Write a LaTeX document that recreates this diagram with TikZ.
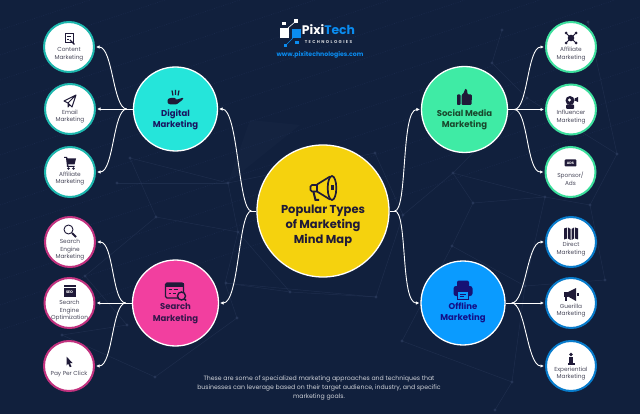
\documentclass[tikz,border=0pt]{standalone}
\usepackage{fontspec}
\setmainfont{Poppins}
\usetikzlibrary{positioning}
\usetikzlibrary{calc}
\usetikzlibrary{arrows.meta}
\definecolor{mapbg}{HTML}{11203D}
\definecolor{meshline}{HTML}{2A3A5C}
\definecolor{raydots}{HTML}{1A2A4C}
\definecolor{iconink}{HTML}{1F1A38}
\definecolor{leafink}{HTML}{4A4A5C}
\definecolor{mapyellow}{HTML}{F5D20E}
\definecolor{digitalteal}{HTML}{25E5DA}
\definecolor{socialgreen}{HTML}{3FEBA5}
\definecolor{searchpink}{HTML}{F23F9F}
\definecolor{offlineblue}{HTML}{0A9BFF}
\definecolor{logoblue}{HTML}{0A8CF0}
\tikzset{
	hub/.style={circle, draw=white, line width=1.3pt, inner sep=0pt, minimum size=84pt},
	leaf/.style={circle, fill=white, line width=2pt, inner sep=0pt, minimum size=50pt},
	hubtext/.style={align=center, font=\bfseries\fontsize{8.5}{11.2}\selectfont},
	leaftext/.style={align=center, text=leafink, font=\fontsize{5.8}{7.6}\selectfont},
	link/.style={draw=white, line width=0.9pt},
	linkto/.style={link, -{Latex[length=3.5pt,width=3.5pt]}, shorten >=1pt},
	inkline/.style={draw=iconink, line width=1pt},
	pics/docicon/.style={code={
		\draw[inkline] (-4,-5) rectangle (4,4);
		\draw[inkline, line width=.8pt] (-2,-2.5) -- (2,-2.5) (-2,0) -- (0,0);
		\draw[inkline, line width=1.3pt] (1,1) -- (5.5,5.5);
	}},
	pics/planeicon/.style={code={
		\draw[inkline, line join=round] (6,-6) -- (-6,0) -- (-2,2) -- (6,-6) -- (2,6) -- (-2,2) -- (-2,6) -- (0,3.5);
	}},
	pics/carticon/.style={code={
		\fill[iconink] (-6,-6) -- (-3,-6) -- (-2.4,-4.5) -- (6,-4.5) -- (4.5,1.5) -- (-2,1.5) -- (-1.6,3) -- (4.5,3) -- (4.5,4) -- (-3,4) -- (-3.2,1.5) -- (-4,-5) -- (-6,-5) -- cycle;
		\fill[iconink] (-1.5,5.5) circle (1.3) (3.5,5.5) circle (1.3);
	}},
	pics/lensicon/.style={code={
		\draw[inkline, line width=.9pt] (-1.5,-1.5) circle (4.5);
		\draw[inkline, line width=2pt] (2,2) -- (6,6);
	}},
	pics/seoicon/.style={code={
		\fill[iconink] (-6,-6) rectangle (6,6);
		\draw[white, line width=.5pt] (-6,-3.5) -- (6,-3.5);
		\node (seotag) at (0,1.3) [text=white, inner sep=0pt, font=\bfseries\fontsize{3.6}{4}\selectfont] {SEO};
	}},
	pics/pointericon/.style={code={
		\fill[iconink] (-2.5,-5.5) -- (3.5,1) -- (0.8,1) -- (2.5,4.5) -- (0.8,5.2) -- (-0.8,1.6) -- (-2.5,3.5) -- cycle;
	}},
	pics/hubicon/.style={code={
		\draw[iconink, line width=1.2pt] (-3.5,-7.5) -- (-2.5,-2.5) (0,-8) -- (0,-3) (3.5,-7.5) -- (2.5,-2.5);
		\fill[iconink, rounded corners=1.2pt] (-8,1) -- (-3,-.5) -- (1,.5) -- (0,2) -- (8,-.5) -- (7.5,1.5) -- (1,6.5) -- (-5,6.5) -- (-8,5.5) -- cycle;
	}},
	pics/thumbicon/.style={code={
		\fill[iconink, rounded corners=.8pt] (-7.5,-2.5) rectangle (-4,8);
		\fill[iconink, rounded corners=1.2pt] (-3,-2) -- (0,-5) -- (0,-8) -- (2.5,-8) -- (3,-2.5) -- (7.5,-2.5) -- (7,8) -- (-3,8) -- cycle;
	}},
	pics/seekicon/.style={code={
		\draw[iconink, line width=1.3pt, rounded corners=1.5pt] (-10,-8) rectangle (8,7);
		\fill[iconink] (-10,-8) rectangle (8,-4.5);
		\draw[iconink, line width=1pt] (-7,-1.5) -- (-4,-1.5) (-2,-1.5) -- (2,-1.5) (-7,2) -- (-5,2) (-3,2) -- (0,2);
		\draw[iconink, fill=searchpink, line width=1.4pt] (6,5) circle (4);
		\draw[iconink, line width=1.5pt] (9,8) -- (10.5,9.5);
	}},
	pics/printicon/.style={code={
		\fill[iconink!70!blue, rounded corners=2pt] (-6,-9.5) rectangle (6,0);
		\fill[iconink!70!blue, rounded corners=2.5pt] (-9.5,-4) rectangle (9.5,6);
		\draw[iconink!70!blue, fill=offlineblue, line width=1pt] (-5.5,1) rectangle (5.5,9);
		\draw[iconink!70!blue, line width=.7pt] (-3,4) -- (3,4) (-3,6) -- (1,6);
	}},
	pics/socialicon/.style={code={
		\draw[inkline] (-5,-5) -- (5,5) (-5,5) -- (5,-5);
		\fill[iconink] (-5,-5) circle (1.5) (5,-5) circle (1.5) (-5,5) circle (1.5) (5,5) circle (1.5) (0,0) circle (3.3);
	}},
	pics/speakicon/.style={code={
		\fill[iconink] (-1,-2) circle (4.5);
		\fill[iconink, rounded corners=1pt] (-5,2) rectangle (3,6.5);
		\fill[white] (-1.5,-2.5) circle (1.6);
		\fill[iconink] (3.5,-4) -- (7,-5.5) -- (7,-.5) -- (3.5,-2) -- cycle;
	}},
	pics/adsicon/.style={code={
		\fill[iconink, rounded corners=.8pt] (-5.8,-3.5) rectangle (5.8,3.5);
		\node (adstag) at (0,0) [text=white, inner sep=0pt, font=\bfseries\fontsize{3.4}{4}\selectfont] {ADS};
	}},
	pics/foldicon/.style={code={
		\fill[iconink] (-7,-5.5) -- (-4,-6.5) -- (-4,4.5) -- (-7,5.5) -- cycle
			(-3,-6.5) -- (-.5,-5) -- (-.5,6) -- (-3,4.5) -- cycle
			(.5,-5) -- (3,-6.5) -- (3,4.5) -- (.5,6) -- cycle
			(4,-6.5) -- (7,-5.5) -- (7,5.5) -- (4,4.5) -- cycle;
	}},
	pics/hornicon/.style={code={
		\fill[iconink] (-7,-3.5) rectangle (-3,2);
		\fill[iconink] (-3,-3) -- (5,-7) -- (5,6) -- (-3,1.5) -- cycle;
		\fill[iconink] (-6,2) rectangle (-4.5,6);
		\fill[iconink] (6,-2) rectangle (7.5,1);
	}},
	pics/figureicon/.style={code={
		\fill[iconink] (0,-4.5) circle (1.9);
		\fill[iconink] (-2.4,-2.5) rectangle (2.4,2.5);
		\fill[iconink] (-1.6,2.5) rectangle (1.6,4);
		\fill[iconink] (-3.5,4) rectangle (3.5,6);
	}},
	pics/megaphoneicon/.style={code={
		\draw[iconink, line width=1.7pt, rounded corners=1.5pt] (-6,-3) -- (-12.5,-3) -- (-12.5,3.5) -- (-6,3.5);
		\draw[iconink, line width=1.7pt] (-6,-3.5) -- (7,-11.5) (-6,3.5) -- (7,11.5) (-6,-3.5) -- (-6,3.5);
		\draw[iconink, line width=1.7pt] (9,0) ellipse (4.3 and 12);
		\fill[iconink] (8,-2.5) rectangle (11,2.5);
		\draw[iconink, line width=2pt] (-9.5,4) -- (-7.5,12) -- (-4,12);
	}},
}
\begin{document}
\begin{tikzpicture}[x=1pt, y=-1pt, on grid]
	\useasboundingbox (0,0) rectangle (640,414);
	\fill[mapbg] (0,0) rectangle (640,414);
	% faint backdrop
	\foreach \o in {30,55,...,330}
		\draw[raydots, line width=.6pt, dash pattern=on 1pt off 1.4pt] (0,\o) -- ({3*\o},0);
	\fill[meshline, opacity=.12] (228,183) -- (300,125) -- (250,120) -- cycle;
	\foreach \ax/\ay/\bx/\by in {130/158/228/183, 117/183/228/183, 228/183/238/232, 228/183/375/153, 156/217/238/232, 156/217/85/276, 85/276/127/325, 127/325/62/335, 238/232/225/283, 225/283/290/292, 290/292/376/297, 225/283/376/297, 238/232/290/292, 376/297/403/215, 403/215/375/153, 403/215/453/173, 453/173/473/203, 453/173/545/197, 473/203/545/197, 545/197/590/205, 527/98/453/173, 527/98/617/154, 502/30/492/63, 492/63/527/98, 588/22/617/154, 590/205/617/154, 473/203/452/246, 452/246/525/286, 525/286/605/280, 605/280/590/205, 525/286/512/382, 512/382/495/410, 402/341/452/246, 402/341/512/382, 545/197/525/286, 155/377/62/335, 155/377/237/318, 237/318/225/283, 130/158/156/217}
		\draw[meshline, line width=.5pt, opacity=.5] (\ax,\ay) -- (\bx,\by);
	\foreach \ax/\ay in {130/158, 117/183, 228/183, 156/217, 85/276, 127/325, 62/335, 226/283, 238/232, 155/377, 237/318, 502/30, 492/63, 527/98, 453/173, 473/203, 545/197, 590/205, 617/154, 588/22, 452/246, 525/286, 605/280, 512/382, 495/410, 402/341, 375/153, 290/292, 376/297, 403/215}
		\fill[meshline, opacity=.8] (\ax,\ay) circle (1.7);
	% logo
	\fill[white] (280,28) rectangle (288.5,38);
	\fill[logoblue] (292,29) rectangle (301,38.5);
	\fill[white] (294,19) rectangle (298,23);
	\fill[white] (282,22) rectangle (285.5,25.5);
	\fill[logoblue] (295,41) rectangle (298.5,44);
	\fill[logoblue] (283.5,44) rectangle (287,47);
	\draw[white, line width=.6pt] (288,28) -- (295,22);
	\draw[logoblue, line width=.6pt] (293,38) -- (286,45);
	\node (logoname) at (328.5,30) [inner sep=0pt, font=\bfseries\fontsize{12.4}{14}\selectfont] {\textcolor{white}{Pixi}\textcolor{logoblue}{Tech}};
	\node (logosub) at (328.5,42) [inner sep=0pt, text=white!80!mapbg, font=\bfseries\fontsize{4.2}{5}\selectfont] {T\,\,E\,\,C\,\,H\,\,N\,\,O\,\,L\,\,O\,\,G\,\,I\,\,E\,\,S};
	\node (logourl) at (320,55) [inner sep=0pt, text=logoblue, font=\bfseries\fontsize{6.2}{8}\selectfont] {www.pixitechnologies.com};
	% hubs
	\node[hub, fill=mapyellow, minimum size=132pt] at (323,211) (map) {};
	\node[hub, fill=digitalteal, above left=102pt and 147.5pt of map] (digital) {};
	\node[hub, fill=socialgreen, above right=101.5pt and 141.5pt of map, minimum size=86pt] (social) {};
	\node[hub, fill=searchpink, below left=92pt and 147.5pt of map, minimum size=86pt] (search) {};
	\node[hub, fill=offlineblue, below right=92pt and 140pt of map] (offline) {};
	% leaves
	\node[leaf, draw=digitalteal!80!black, above left=62pt and 106.5pt of digital] (content) {};
	\node[leaf, draw=digitalteal!80!black, left=105.5pt of digital] (email) {};
	\node[leaf, draw=digitalteal!80!black, below left=63pt and 105.5pt of digital] (affiliate) {};
	\node[leaf, draw=searchpink!80!black, above left=61pt and 105.5pt of search] (engine) {};
	\node[leaf, draw=searchpink!80!black, left=106pt of search] (seo) {};
	\node[leaf, draw=searchpink!80!black, below left=63pt and 106.5pt of search] (click) {};
	\node[leaf, draw=socialgreen!95!black, above right=62.5pt and 106.5pt of social] (partner) {};
	\node[leaf, draw=socialgreen!95!black, right=106.5pt of social] (influencer) {};
	\node[leaf, draw=socialgreen!95!black, below right=62.5pt and 106pt of social] (sponsor) {};
	\node[leaf, draw=offlineblue!80!black, above right=61pt and 108pt of offline] (direct) {};
	\node[leaf, draw=offlineblue!80!black, right=108pt of offline] (guerilla) {};
	\node[leaf, draw=offlineblue!80!black, below right=63pt and 108pt of offline] (experiential) {};
	% hub texts
	\node[hubtext, text=iconink, below=15pt of map, font=\bfseries\fontsize{11.5}{15}\selectfont] (maptext) {Popular Types\\of Marketing\\Mind Map};
	\node[hubtext, text=iconink!80!blue, below=10.5pt of digital] (digitaltext) {Digital\\Marketing};
	\node[hubtext, text=iconink!80!green, below=10.5pt of social] (socialtext) {Social Media\\Marketing};
	\node[hubtext, text=iconink!90!magenta, below=10.5pt of search] (searchtext) {Search\\Marketing};
	\node[hubtext, text=iconink!60!blue, below=9.5pt of offline] (offlinetext) {Offline\\Marketing};
	% leaf texts
	\node[leaftext, below=7.5pt of content] (contenttext) {Content\\Marketing};
	\node[leaftext, below=7.5pt of email] (emailtext) {Email\\Marketing};
	\node[leaftext, below=6.5pt of affiliate] (affiliatetext) {Affiliate\\Marketing};
	\node[leaftext, below=8pt of engine] (enginetext) {Search\\Engine\\Marketing};
	\node[leaftext, below=8pt of seo] (seotext) {Search\\Engine\\Optimization};
	\node[leaftext, below=8pt of click] (clicktext) {Pay Per Click};
	\node[leaftext, below=7pt of partner] (partnertext) {Affiliate\\Marketing};
	\node[leaftext, below=7.5pt of influencer] (influencertext) {Influencer\\Marketing};
	\node[leaftext, below=6.7pt of sponsor] (sponsortext) {Sponsor/\\Ads};
	\node[leaftext, below=7pt of direct] (directtext) {Direct\\Marketing};
	\node[leaftext, below=7.5pt of guerilla] (guerillatext) {Guerilla\\Marketing};
	\node[leaftext, below=7.5pt of experiential] (experientialtext) {Experiential\\Marketing};
	% icons
	\pic at ([yshift=23pt]map) {megaphoneicon};
	\pic at ([yshift=11pt]digital) {hubicon};
	\pic at ([yshift=12.5pt]social) {thumbicon};
	\pic at ([yshift=12pt]search) {seekicon};
	\pic at ([yshift=13pt]offline) {printicon};
	\pic at ([yshift=8pt]content) {docicon};
	\pic at ([yshift=8pt]email) {planeicon};
	\pic at ([yshift=9pt]affiliate) {carticon};
	\pic at ([yshift=11pt]engine) {lensicon};
	\pic at ([yshift=12pt]seo) {seoicon};
	\pic at ([yshift=4pt]click) {pointericon};
	\pic at ([yshift=9pt]partner) {socialicon};
	\pic at ([yshift=7pt]influencer) {speakicon};
	\pic at ([yshift=9pt]sponsor) {adsicon};
	\pic at ([yshift=8pt]direct) {foldicon};
	\pic at ([yshift=8pt]guerilla) {hornicon};
	\pic at ([yshift=7pt]experiential) {figureicon};
	% connectors
	\coordinate[left=5pt of map.west] (mapleft);
	\coordinate[right=5pt of map.east] (mapright);
	\coordinate[left=6pt of digital.west] (digitaljoin);
	\coordinate[left=6pt of search.west] (searchjoin);
	\coordinate[right=6pt of social.east] (socialjoin);
	\coordinate[right=6pt of offline.east] (offlinejoin);
	\draw[link] (map.west) -- (mapleft);
	\draw[link] (map.east) -- (mapright);
	\draw[linkto] (mapleft) .. controls +(-13,0) and +(20,0) .. (digital.east);
	\draw[linkto] (mapleft) .. controls +(-13,0) and +(20,0) .. (search.east);
	\draw[linkto] (mapright) .. controls +(13,0) and +(-20,0) .. (social.west);
	\draw[linkto] (mapright) .. controls +(13,0) and +(-20,0) .. (offline.west);
	\draw[link] (digital.west) -- (digitaljoin);
	\draw[link] (search.west) -- (searchjoin);
	\draw[link] (social.east) -- (socialjoin);
	\draw[link] (offline.east) -- (offlinejoin);
	\draw[linkto] (digitaljoin) .. controls +(-14,0) and +(18,0) .. (content.east);
	\draw[linkto] (digitaljoin) -- (email.east);
	\draw[linkto] (digitaljoin) .. controls +(-14,0) and +(18,0) .. (affiliate.east);
	\draw[linkto] (searchjoin) .. controls +(-14,0) and +(18,0) .. (engine.east);
	\draw[linkto] (searchjoin) -- (seo.east);
	\draw[linkto] (searchjoin) .. controls +(-14,0) and +(18,0) .. (click.east);
	\draw[linkto] (socialjoin) .. controls +(14,0) and +(-18,0) .. (partner.west);
	\draw[linkto] (socialjoin) -- (influencer.west);
	\draw[linkto] (socialjoin) .. controls +(14,0) and +(-18,0) .. (sponsor.west);
	\draw[linkto] (offlinejoin) .. controls +(14,0) and +(-18,0) .. (direct.west);
	\draw[linkto] (offlinejoin) -- (guerilla.west);
	\draw[linkto] (offlinejoin) .. controls +(14,0) and +(-18,0) .. (experiential.west);
	% footer
	\node (footnote) at (319,388) [align=center, text=white!80!mapbg, font=\fontsize{6.2}{9}\selectfont] {These are some of specialized marketing approaches and techniques that\\businesses can leverage based on their target audience, industry, and specific\\marketing goals.};
\end{tikzpicture}
\end{document}
